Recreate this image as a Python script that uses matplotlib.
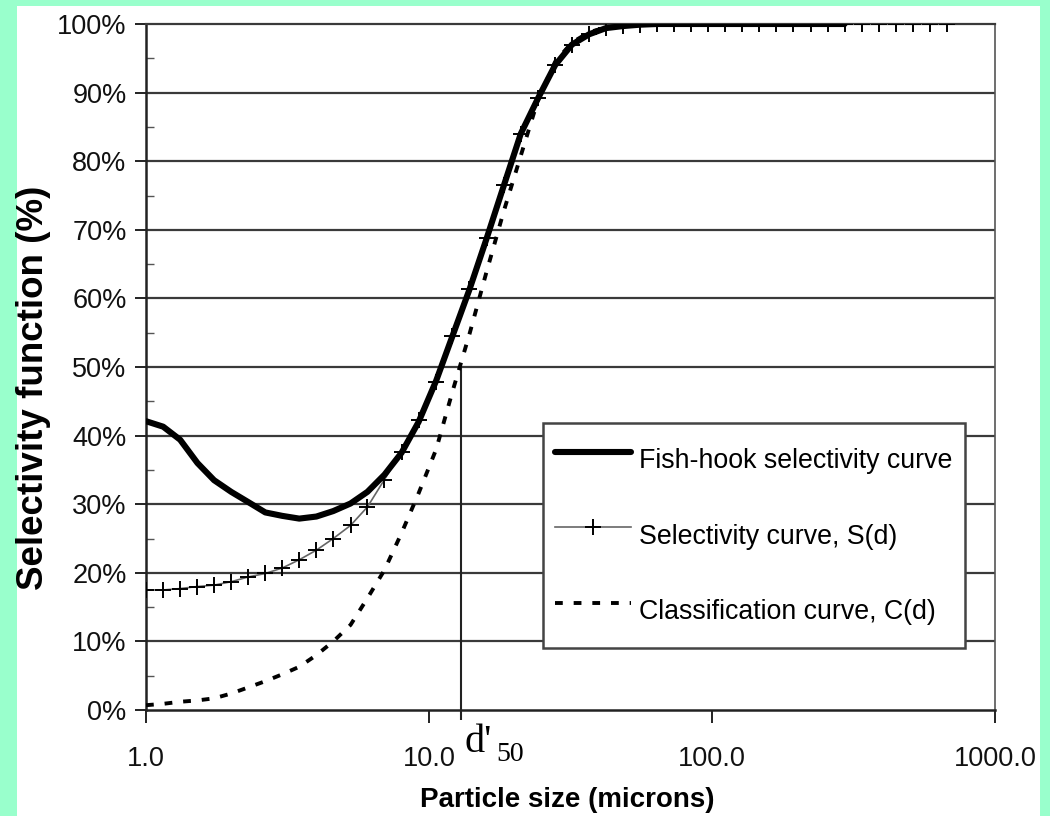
import matplotlib
matplotlib.use("Agg")
import matplotlib.pyplot as plt
from matplotlib.patches import Rectangle
from matplotlib.ticker import FixedLocator, FuncFormatter

plt.rcParams['font.family'] = ['Liberation Sans', 'DejaVu Sans']

# particle sizes (microns) of the sampled points
size = [1.0, 1.15, 1.32, 1.52, 1.74, 2.0, 2.3, 2.64, 3.03, 3.48,
        4.0, 4.59, 5.28, 6.06, 6.96, 8.0, 9.19, 10.6, 12.1, 13.9,
        16.0, 18.4, 21.1, 24.3, 27.9, 32.0, 36.8, 42.2, 48.5, 55.7,
        64.0, 73.5, 84.4, 97.0, 111, 128, 147, 169, 194, 223,
        256, 294, 338, 388, 446, 512, 588, 676]

# selectivity S(d), %
sel = [17.5, 17.5, 17.7, 18.0, 18.2, 18.7, 19.4, 19.9, 20.7, 21.9,
       23.3, 25.0, 26.9, 29.6, 33.6, 37.6, 42.3, 47.8, 54.5, 61.3,
       68.8, 76.5, 84.0, 89.2, 94.0, 97.0, 98.5, 99.4, 99.7, 99.9,
       100, 100, 100, 100, 100, 100, 100, 100, 100, 100,
       100, 100, 100, 100, 100, 100, 100, 100]

# fish-hook selectivity, % (drawn up to ~300 microns)
fish = [42.1, 41.3, 39.4, 36.0, 33.5, 31.8, 30.3, 28.8, 28.3, 27.9,
        28.2, 29.0, 30.1, 31.8, 34.3, 37.5, 42.0, 48.0, 54.5, 61.3,
        68.8, 76.5, 84.0, 89.2, 94.0, 97.0, 98.5, 99.4, 99.7, 99.9,
        100, 100, 100, 100, 100, 100, 100, 100, 100, 100,
        100, 100]

# classification C(d), %
clas = [0.7, 0.9, 1.2, 1.4, 1.7, 2.4, 3.3, 4.2, 5.2, 6.3,
        8.0, 10.0, 12.4, 16.3, 20.4, 25.8, 31.6, 38.0, 46.4, 54.8,
        64.0, 72.8, 80.8, 89.0, 94.5, 97.3, 98.8, 99.5, 99.8, 100,
        100, 100]

d50 = 13.0
d50_level = 50

xticks = [1, 10, 100, 1000]
xticklabels = ['1.0', '10.0', '100.0', '1000.0']
yticks = [0, 10, 20, 30, 40, 50, 60, 70, 80, 90, 100]

fig = plt.figure(figsize=(10.5, 8.16), dpi=100, facecolor='#99FFCC')
fig.patches.append(Rectangle((17/1050, 0), 1023/1050, 810/816,
                             transform=fig.transFigure, facecolor='white',
                             edgecolor='none', zorder=-10))
ax = fig.add_axes([146/1050, 106/816, 849/1050, 686/816])
ax.set_facecolor('white')

for y in yticks[1:-1]:
    ax.axhline(y, color='#3a3a3a', lw=1.6, zorder=1)

ax.plot(size[:len(clas)], clas, color='black', lw=2.8, ls=(0, (2.0, 2.8)),
        zorder=3, label='Classification curve, C(d)')
ax.plot(size, sel, color='#666666', lw=1.2, marker='+', ms=11, mew=1.4,
        mec='black', zorder=4, label='Selectivity curve, S(d)')
ax.plot(size[:len(fish)], fish, color='black', lw=4.4, solid_capstyle='round',
        zorder=5, label='Fish-hook selectivity curve')

ax.vlines(d50, -1.5, d50_level, color='#222222', lw=1.5, zorder=2, clip_on=False)
ax.annotate("d'", xy=(d50, 0), xytext=(2, -10), textcoords='offset points',
            ha='left', va='top', fontsize=29, family='Liberation Serif')
ax.annotate("50", xy=(d50, 0), xytext=(25, -23), textcoords='offset points',
            ha='left', va='top', fontsize=20, family='Liberation Serif')

ax.set_xscale('log')
ax.set_xlim(1, 1000)
ax.set_ylim(0, 100)
ax.xaxis.set_major_locator(FixedLocator(xticks))
ax.xaxis.set_minor_locator(FixedLocator([]))
ax.set_xticklabels(xticklabels)
ax.yaxis.set_major_locator(FixedLocator(yticks))
ax.yaxis.set_minor_locator(FixedLocator([5, 15, 25, 35, 45, 55, 65, 75, 85, 95]))
ax.yaxis.set_major_formatter(FuncFormatter(lambda v, p: '%d%%' % v))

ax.tick_params(axis='x', which='major', direction='out', length=9, width=1.3,
               labelsize=19.5, pad=17, colors='#111111')
ax.tick_params(axis='y', which='major', direction='out', length=8, width=1.3,
               labelsize=19.5, pad=6, colors='#111111')
ax.tick_params(axis='y', which='minor', direction='in', length=6, width=1.0,
               colors='#555555')

for s in ['left', 'bottom']:
    ax.spines[s].set_linewidth(1.8)
    ax.spines[s].set_color('#222222')
ax.spines['top'].set_linewidth(1.6)
ax.spines['top'].set_color('#3a3a3a')
ax.spines['right'].set_linewidth(1.2)
ax.spines['right'].set_color('#555555')

ax.set_xlabel('Particle size (microns)', fontsize=20, fontweight='bold')
ax.xaxis.set_label_coords(0.496, -0.112)
ax.set_ylabel('Selectivity function (%)', fontsize=26.5, fontweight='bold')
ax.yaxis.set_label_coords(-0.112, 0.47)

h, l = ax.get_legend_handles_labels()
order = [2, 1, 0]
leg = ax.legend([h[i] for i in order], [l[i] for i in order],
                loc='upper left', bbox_to_anchor=(0.4676, 0.418),
                fontsize=19.3, handlelength=2.85, handleheight=2.43,
                labelspacing=1.0, handletextpad=0.3, borderpad=0.45,
                borderaxespad=0, fancybox=False, framealpha=1,
                edgecolor='#444444')
leg.get_frame().set_linewidth(1.8)
leg.set_zorder(6)

fig.savefig('out.png', dpi=100, facecolor=fig.get_facecolor())
